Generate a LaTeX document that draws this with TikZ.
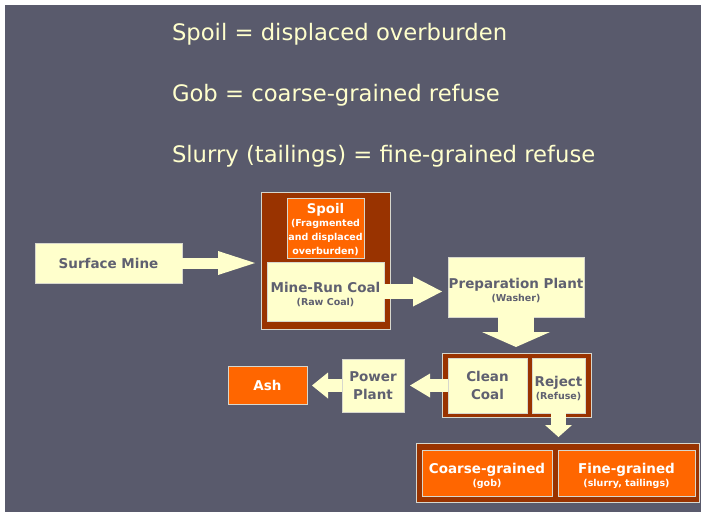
\documentclass[tikz,border=0pt]{standalone}
\usepackage{fontspec}
\setmainfont{DejaVu Sans}
\usetikzlibrary{arrows.meta}
\definecolor{bg}{RGB}{89,90,108}
\definecolor{cream}{RGB}{255,255,204}
\definecolor{brwn}{RGB}{153,51,0}
\definecolor{orng}{RGB}{255,102,0}
\definecolor{boxtxt}{RGB}{95,96,112}
\definecolor{edge}{RGB}{215,215,205}
\newcommand{\smtxt}[1]{{\fontsize{9.5}{11}\selectfont #1}}
\newcommand{\tallstrut}{\rule{0pt}{16.3pt}}
\begin{document}
\begin{tikzpicture}[x=1pt,y=-1pt,
  every node/.style={inner sep=0pt, outer sep=0pt, align=center},
  title/.style={anchor=base west, text=cream, font=\fontsize{22.7}{26}\selectfont},
  creambox/.style={fill=cream, draw=edge, line width=0.6pt, text=boxtxt,
    font=\fontsize{13.5}{15}\selectfont\bfseries},
  orangebox/.style={fill=orng, draw=edge, line width=0.6pt, text=white,
    font=\fontsize{13.5}{15}\selectfont\bfseries},
  brownbox/.style={fill=brwn, draw=edge, line width=0.6pt},
  blockarrow/.style={draw=cream, line cap=butt}
]
% background
\fill[white] (0,0) rectangle (703,512);
\fill[bg] (5,5) rectangle (701,512);

% titles
\node[title] (t1) at (172,40) {Spoil = displaced overburden};
\node[title] (t2) at (172,101) {Gob = coarse-grained refuse};
\node[title] (t3) at (172,162) {Slurry (tailings) = fine-grained refuse};

% boxes
\node[creambox, minimum width=147pt, minimum height=40pt] (surf) at (108.5,263) {Surface Mine};
\node[brownbox, minimum width=129pt, minimum height=137pt] (brown1) at (325.5,260.5) {};
\node[orangebox, minimum width=77pt, minimum height=60pt, font=\fontsize{13.3}{13.7}\selectfont\bfseries] (spoil) at (325.5,228)
  {\rule{0pt}{12.5pt}Spoil\\\smtxt{(Fragmented}\\\smtxt{and displaced}\\\smtxt{overburden)}};
\node[creambox, minimum width=117pt, minimum height=59pt] (minerun) at (325.5,291.5)
  {\tallstrut Mine-Run Coal\\[-2pt]\smtxt{(Raw Coal)}};
\node[creambox, minimum width=136pt, minimum height=60pt] (prep) at (516,287)
  {\tallstrut Preparation Plant\\[-2pt]\smtxt{(Washer)}};
\node[brownbox, minimum width=149pt, minimum height=64pt] (brown2) at (516.5,385) {};
\node[creambox, minimum width=79pt, minimum height=55pt] (clean) at (487.5,385.5)
  {Clean\\[3.5pt]Coal};
\node[creambox, minimum width=53pt, minimum height=55pt] (reject) at (558.5,385.5)
  {\tallstrut Reject\\[-2pt]\smtxt{(Refuse)}};
\node[creambox, minimum width=62pt, minimum height=53pt] (power) at (373,385.5)
  {Power\\[3.5pt]Plant};
\node[orangebox, minimum width=79pt, minimum height=38pt] (ash) at (267.5,385) {Ash};
\node[brownbox, minimum width=283pt, minimum height=59pt] (brown3) at (557.5,472.5) {};
\node[orangebox, minimum width=130pt, minimum height=46pt] (coarse) at (487,473)
  {\tallstrut Coarse-grained\\[-2pt]\smtxt{(gob)}};
\node[orangebox, minimum width=137pt, minimum height=46pt] (fine) at (626.5,473)
  {\tallstrut Fine-grained\\[-2pt]\smtxt{(slurry, tailings)}};

% block arrows
\draw[blockarrow, line width=11pt, -{Triangle[length=37pt,width=24pt,line width=0pt]}, shorten >=6pt]
  (surf.east) -- (surf.east -| brown1.west);
\draw[blockarrow, line width=15pt, -{Triangle[length=29pt,width=30pt,line width=0pt]}, shorten >=6pt]
  (minerun.east) -- (minerun.east -| prep.west);
\draw[blockarrow, line width=36pt, -{Triangle[length=15pt,width=68pt,line width=0pt]}, shorten >=6pt]
  (prep.south) -- (prep.south |- brown2.north);
\draw[blockarrow, line width=13pt, -{Triangle[length=20pt,width=24pt,line width=0pt]}, shorten >=6pt]
  (clean.west) -- (clean.west -| power.east);
\draw[blockarrow, line width=13pt, -{Triangle[length=16pt,width=26pt,line width=0pt]}, shorten >=5pt]
  (power.west) -- (power.west -| ash.east);
\draw[blockarrow, line width=15pt, -{Triangle[length=12pt,width=27pt,line width=0pt]}, shorten >=6pt]
  (reject.south) -- (reject.south |- brown3.north);
\end{tikzpicture}
\end{document}
